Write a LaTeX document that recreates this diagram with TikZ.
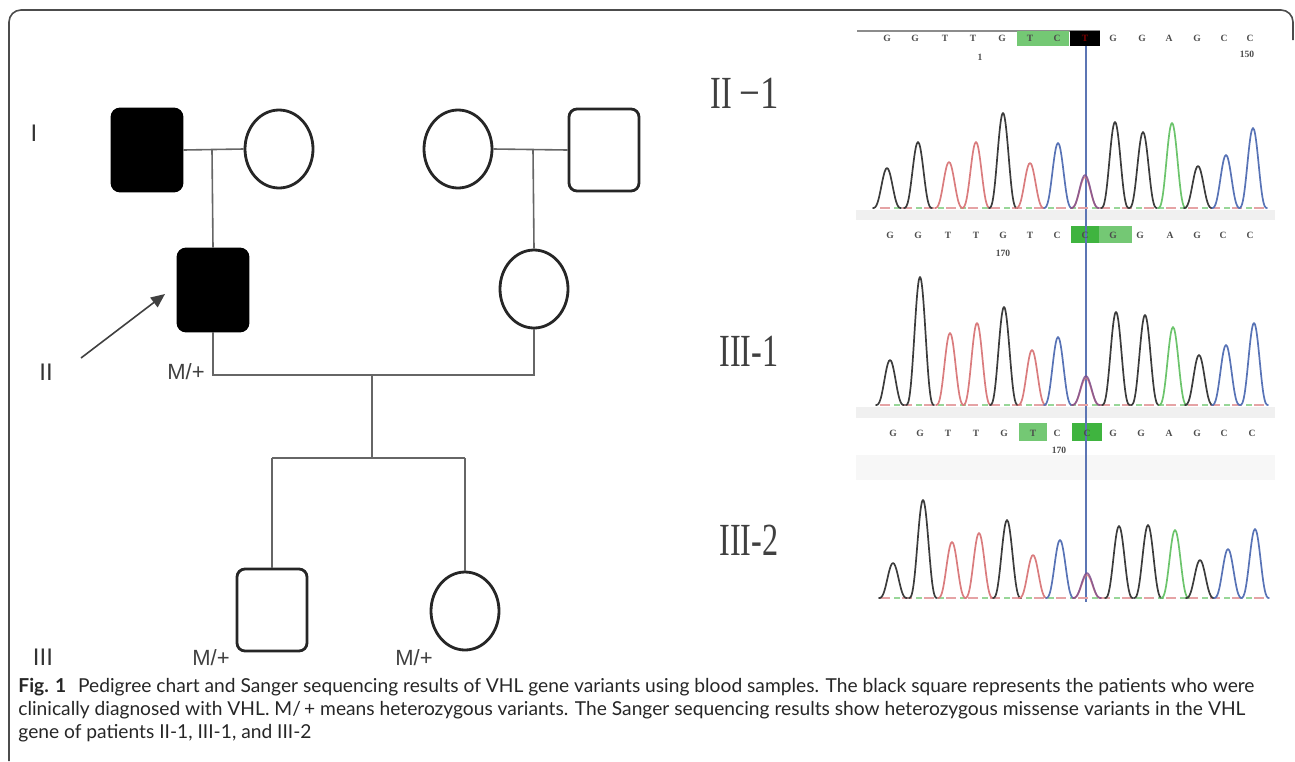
\documentclass[tikz,border=0pt]{standalone}
\usepackage{fontspec}
\setmainfont{Lato}
\newfontfamily\capfont{Lato}
\newfontfamily\serlab{Liberation Serif}
\newfontfamily\pedfont{Liberation Sans}
\usetikzlibrary{shapes.geometric,arrows.meta}

\definecolor{trk}{HTML}{3C3C3C}
\definecolor{trr}{HTML}{DA7C7E}
\definecolor{trb}{HTML}{5873B6}
\definecolor{trg}{HTML}{6CC46C}
\definecolor{trp}{HTML}{7B4C8C}
\definecolor{boxlg}{HTML}{74C874}
\definecolor{boxdg}{HTML}{3FB43F}
\definecolor{cursor}{HTML}{5C75B4}

\begin{document}
\begin{tikzpicture}[x=0.5pt,y=-0.5pt,
  affsq/.style={rectangle, draw=black, fill=black, rounded corners=4pt,
    minimum width=35pt, minimum height=41pt, line width=1.4pt, inner sep=0pt},
  unsq/.style={affsq, fill=white, draw=black!85},
  femc/.style={ellipse, draw=black!85, fill=white, line width=1.4pt,
    minimum width=34pt, minimum height=39pt, inner sep=0pt},
  link/.style={draw=black!60, line width=0.8pt},
  genlab/.style={font=\pedfont\fontsize{12}{12}\selectfont, text=black!80, inner sep=0pt},
  mlab/.style={font=\pedfont\fontsize{11}{11}\selectfont, text=black!75, inner sep=0pt},
  seqlab/.style={font=\serlab\fontsize{23}{23}\selectfont, text=black!75, inner sep=0pt},
  base/.style={font=\serlab\bfseries\fontsize{4.8}{4.8}\selectfont, text=black!70, inner sep=0pt},
  trace/.style={line width=0.85pt, line join=round, line cap=round},
  caption/.style={font=\capfont\fontsize{9.6}{11}\selectfont, text=black!85, anchor=base west, inner sep=0pt}
]
\useasboundingbox (0,0) rectangle (1295,761);

% outer frame
\draw[black!70, line width=0.8pt, rounded corners=6pt] (9,761) -- (9,10) -- (1293,10) -- (1293,40);

% ---------------- pedigree ----------------
\node[genlab] (gI)   at (34,133) {I};
\node[genlab] (gII)  at (46,372) {II};
\node[genlab] (gIII) at (43,657) {III};

\node[affsq] (I1) at (147,150) {};
\node[femc]  (I2) at (279,149) {};
\node[femc]  (I3) at (458,149) {};
\node[unsq]  (I4) at (604,150) {};
\node[affsq] (II1) at (213,290) {};
\node[femc]  (II2) at (534,289) {};
\node[unsq]  (III1) at (272,610) {};
\node[femc]  (III2) at (465,611) {};

\coordinate (c1) at (212,150);
\coordinate (c2) at (533,150);
\coordinate (c3l) at (213,375);
\coordinate (c3r) at (534,375);
\coordinate (c3) at (372,375);
\coordinate (sib) at (372,458);
\coordinate (sibl) at (272,458);
\coordinate (sibr) at (465,458);

\draw[link] (I1.east) -- (I2.west);
\draw[link] (I3.east) -- (I4.west);
\draw[link] (c1) -- (II1.north);
\draw[link] (c2) -- (II2.north);
\draw[link] (II1.south) -- (c3l) -- (c3r) -- (II2.south);
\draw[link] (c3) -- (sib);
\draw[link] (sibl) -- (sibr);
\draw[link] (sibl) -- (III1.north);
\draw[link] (sibr) -- (III2.north);

\node[mlab] (m1) at (186,372) {M/+};
\node[mlab] (m2) at (211,658) {M/+};
\node[mlab] (m3) at (414,658) {M/+};

\coordinate (arrtail) at (81,358);
\coordinate (arrtip) at (165,294);
\draw[black!75, line width=0.8pt, -{Triangle[length=7pt,width=6pt]}] (arrtail) -- (arrtip);

% ---------------- sequencing labels ----------------
\node[seqlab] (s1) at (745,93) {\scalebox{0.7}[1]{II}\,\scalebox{0.8}[1]{\char"2212 1}};
\node[seqlab] (s2) at (749,351) {\scalebox{0.7}[1]{III-1}};
\node[seqlab] (s3) at (749,540) {\scalebox{0.7}[1]{III-2}};

% ---------------- chromatograms ----------------
% faint strips between the traces
\fill[black!6] (856,210) rectangle (1275,220);
\fill[black!6] (856,407) rectangle (1275,418);
\fill[black!3] (856,455) rectangle (1275,480);
\draw[black!45, line width=1pt] (857,31) -- (1100,31);

% base call highlights
\fill[boxlg] (1017,31) rectangle (1069,46);
\fill[black] (1070,31) rectangle (1100,46);
\fill[boxdg] (1071,226) rectangle (1099,243);
\fill[boxlg] (1099,226) rectangle (1132,243);
\fill[boxlg] (1019,423) rectangle (1047,441);
\fill[boxdg] (1072,423) rectangle (1102,441);

% cursor line
\draw[cursor, line width=0.9pt] (1086,46) -- (1086,602);

% base calls
\foreach \px/\b in {887/G,915/G,945/T,973/T,1002/G,1030/T,1057/C,1113/G,1142/G,1169/A,1197/G,1224/C,1250/C}
  \node[base] at (\px,38) {\b};
\node[base, text=red!50!black] at (1085,38) {T};
\node[base] at (980,57) {1};
\node[base] at (1247,54) {150};
\foreach \px/\b in {890/G,918/G,948/T,976/T,1003/G,1030/T,1057/C,1085/C,1113/G,1140/G,1170/A,1197/G,1223/C,1250/C}
  \node[base] at (\px,235) {\b};
\node[base] at (1003,253) {170};
\foreach \px/\b in {893/G,920/G,948/T,976/T,1004/G,1033/T,1057/C,1087/C,1113/G,1141/G,1169/A,1197/G,1224/C,1252/C}
  \node[base] at (\px,433) {\b};
\node[base] at (1059,450) {170};

% baselines
\foreach \yb in {208,405,598}{
  \draw[trr!70, line width=0.6pt, dash pattern=on 5pt off 6pt] (880,\yb) -- (1265,\yb);
  \draw[trg!70, line width=0.6pt, dash pattern=on 3pt off 8pt, dash phase=4pt] (880,\yb) -- (1265,\yb);
}

% peaks: centre / apex / colour, per trace
\foreach \yb/\plist in {
  208/{887/168/trk,918/142/trk,949/162/trr,976/142/trr,1003/113/trk,1030/163/trr,1058/143/trb,1115/122/trk,1143/132/trk,1172/123/trg,1198/166/trk,1226/155/trb,1253/128/trb},
  405/{890/360/trk,920/277/trk,950/333/trr,977/323/trr,1004/307/trk,1032/350/trr,1058/337/trb,1116/312/trk,1145/315/trk,1173/327/trg,1199/355/trk,1226/345/trb,1254/323/trb},
  598/{893/563/trk,923/500/trk,952/542/trr,979/533/trr,1007/520/trk,1033/555/trr,1060/540/trb,1119/526/trk,1148/525/trk,1175/530/trg,1200/560/trk,1228/549/trb,1255/529/trb}}{
  \foreach \c/\t/\col in \plist {
    \draw[trace, \col] plot[domain=\c-14:\c+14, samples=25, smooth]
      (\x, {\yb-(\yb-\t)*(0.5+0.5*cos(180*(\x-\c)/14))^1.4});
  }
}
% heterozygous position: overlapping red and blue peaks
\foreach \yb/\c/\t in {208/1085/177,405/1086/378,598/1087/575}{
  \draw[trace, trr, opacity=0.8] plot[domain=\c-14:\c+14, samples=25, smooth]
      (\x, {\yb-(\yb-\t)*(0.5+0.5*cos(180*(\x-\c)/14))^1.4});
  \draw[trace, trp, opacity=0.8] plot[domain=\c-14:\c+14, samples=25, smooth]
      (\x, {\yb-(\yb-\t+2)*(0.5+0.5*cos(180*(\x-\c)/14))^1.4});
}

% ---------------- caption ----------------
\node[caption] (cap1) at (18,692) {\textbf{Fig. 1}\hspace{6pt}Pedigree chart and Sanger sequencing results of VHL gene variants using blood samples. The black square represents the patients who were};
\node[caption] (cap2) at (18,715) {clinically diagnosed with VHL. M/\,+ means heterozygous variants. The Sanger sequencing results show heterozygous missense variants in the VHL};
\node[caption] (cap3) at (18,738) {gene of patients II-1, III-1, and III-2};
\end{tikzpicture}
\end{document}
